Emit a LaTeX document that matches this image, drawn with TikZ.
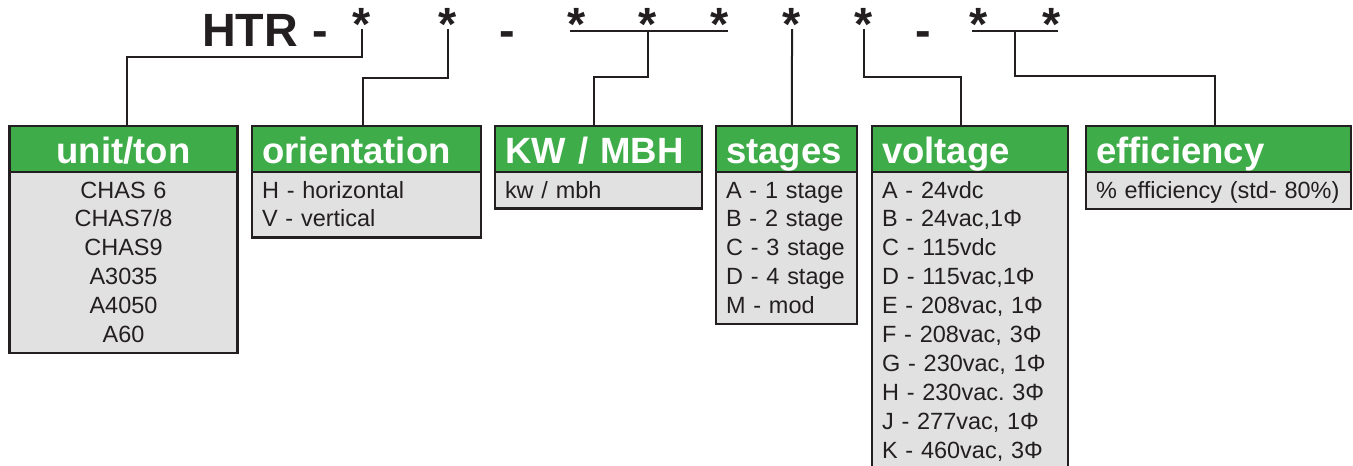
\documentclass[tikz,border=0pt]{standalone}
\usepackage{fontspec}
\setmainfont{Liberation Sans}
\usetikzlibrary{positioning}

\definecolor{hdrgreen}{RGB}{62,173,73}
\definecolor{bodygray}{RGB}{225,225,225}
\definecolor{inkgray}{RGB}{35,31,32}

\newcommand{\topstrut}{\rule{0pt}{15pt}}
\newcommand{\botstrut}{\rule[-3.4pt]{0pt}{3.4pt}}

\tikzset{every picture/.style={line width=0.75pt}}
\tikzset{
	hdr/.style={draw=inkgray, line width=1.6pt, fill=hdrgreen, text=white, anchor=north west, inner xsep=7.5pt, inner ysep=0pt, outer sep=0pt, minimum height=34.5pt, text height=27pt, text depth=6pt, align=left, font=\fontsize{27.4}{30}\selectfont\bfseries},
	bdy/.style={draw=inkgray, line width=1.6pt, fill=bodygray, text=inkgray, inner xsep=7.5pt, inner ysep=4.5pt, outer sep=0pt, align=left, font=\fontsize{17.6}{21.7}\selectfont\frenchspacing},
	ttl/.style={anchor=base, inner sep=0pt, text=inkgray, font=\fontsize{35}{40}\selectfont\bfseries},
	conn/.style={draw=inkgray, line width=1.5pt}
}

\begin{document}
\begin{tikzpicture}[x=0.75pt,y=0.75pt,yscale=-1,xscale=1]
	\useasboundingbox (0,0) rectangle (1353,465);

	% Title Nodes
	\node[ttl] (htr) at (250,46) {HTR};
	\node[ttl] (d1) at (320,46) {-};
	\node[ttl] (s1) at (362,40) {*};
	\node[ttl] (s2) at (448,40) {*};
	\node[ttl] (d2) at (507,46) {-};
	\node[ttl] (s3) at (577,40) {*};
	\node[ttl] (s4) at (648,40) {*};
	\node[ttl] (s5) at (720,40) {*};
	\node[ttl] (s6) at (792,40) {*};
	\node[ttl] (s7) at (864,40) {*};
	\node[ttl] (d3) at (923,46) {-};
	\node[ttl] (s8) at (979,40) {*};
	\node[ttl] (s9) at (1052,40) {*};
	%Straight Lines: underlines
	\draw[conn] (570,31) -- (728,31);
	\draw[conn] (972,31) -- (1058,31);
	\coordinate (u2) at (1015,31);

	%Shape: unit/ton
	\node[hdr, text width=156pt, align=center] (unith) at (9.5,126) {unit/ton};
	\node[bdy, text width=156pt, align=center, below=0pt of unith] (unitb) {\topstrut CHAS 6\\CHAS7/8\\CHAS9\\A3035\\A4050\\A60\botstrut};
	%Shape: orientation
	\node[hdr, text width=156.75pt] (orih) at (252,126) {orientation};
	\node[bdy, text width=156.75pt, below=0pt of orih] (orib) {\topstrut H - horizontal\\V - vertical\botstrut};
	%Shape: KW / MBH
	\node[hdr, text width=140.25pt] (kwh) at (495,126) {KW / MBH};
	\node[bdy, text width=140.25pt, below=0pt of kwh] (kwb) {\topstrut kw / mbh\botstrut};
	%Shape: stages
	\node[hdr, text width=90.75pt] (stgh) at (716,126) {stages};
	\node[bdy, text width=90.75pt, below=0pt of stgh] (stgb) {\topstrut A - 1 stage\\B - 2 stage\\C - 3 stage\\D - 4 stage\\M - mod\botstrut};
	%Shape: voltage
	\node[hdr, text width=132pt] (volh) at (872,126) {voltage};
	\node[bdy, text width=132pt, below=0pt of volh] (volb) {\topstrut A - 24vdc\\B - 24vac,1Φ\\C - 115vdc\\D - 115vac,1Φ\\E - 208vac, 1Φ\\F - 208vac, 3Φ\\G - 230vac, 1Φ\\H - 230vac. 3Φ\\J - 277vac, 1Φ\\K - 460vac, 3Φ\botstrut};
	%Shape: efficiency
	\node[hdr, text width=183.75pt] (effh) at (1086,126) {efficiency};
	\node[bdy, text width=183.75pt, below=0pt of effh] (effb) {\topstrut \% efficiency (std- 80\%)\botstrut};

	%Straight Lines: connectors
	\draw[conn] (s1.base) ++(0,-11) -- ++(0,28) -| ([xshift=2.6pt]unith.north);
	\draw[conn] (s2.base) ++(0,-11) -- ++(0,49) -| ([xshift=-2.6pt]orih.north);
	\draw[conn] (s4.base) ++(0,-9) -- ++(0,46) -| ([xshift=-3.4pt]kwh.north);
	\draw[conn] (s6.base) ++(0,-11) -- ([xshift=4.1pt]stgh.north);
	\draw[conn] (s7.base) ++(0,-11) -- ++(0,48) -| ([xshift=-6.75pt]volh.north);
	\draw[conn] (u2) -- ++(0,45) -| ([xshift=-2.6pt]effh.north);

\end{tikzpicture}
\end{document}
